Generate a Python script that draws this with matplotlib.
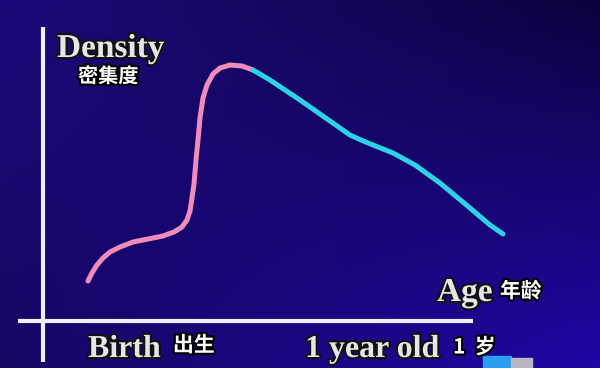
import numpy as np
import matplotlib.pyplot as plt
import matplotlib.patheffects as pe
from matplotlib.patches import Rectangle

# curve (age from birth, density), origin at the axis cross
pink_age = [45, 49, 54, 60, 67, 77, 90, 105, 120, 131, 139, 144, 147, 149, 151,
            153, 155, 157, 160, 164, 170, 177, 187, 199, 210]
pink_density = [40, 48, 56, 63, 69, 74, 79, 82, 85, 89, 94, 101, 110, 123, 137,
                161, 181, 203, 223, 236, 247, 253, 256, 255, 251]
cyan_age = [210, 227, 257, 287, 307, 318, 330, 350, 372, 397, 427, 447, 460]
cyan_density = [251, 241, 221, 200, 186, 181, 176, 168, 156, 138, 113, 96, 87]

x_axis_span = [-25, 430]
y_axis_span = [-41, 294]

fig = plt.figure(figsize=(6, 3.68), dpi=100)
ax = fig.add_axes([0, 0, 1, 1])
ax.set_xlim(-43, 557)
ax.set_ylim(-47, 321)
ax.axis("off")

# slide background gradient
tl = np.array([0x1c, 0x0a, 0x7a]) / 255
tr = np.array([0x0b, 0x03, 0x3e]) / 255
bl = np.array([0x16, 0x06, 0x62]) / 255
br = np.array([0x22, 0x06, 0xa6]) / 255
u = np.linspace(0, 1, 200)[None, :, None]
v = np.linspace(0, 1, 120)[:, None, None]
bg = (1 - v) * ((1 - u) * tl + u * tr) + v * ((1 - u) * bl + u * br)
ax.imshow(bg, extent=[-43, 557, -47, 321], aspect="auto", zorder=0)

# axes lines
ax.plot(x_axis_span, [0, 0], color="#f2eefc", lw=3, solid_capstyle="butt", zorder=2)
ax.plot([0, 0], y_axis_span, color="#f2eefc", lw=3, solid_capstyle="butt", zorder=2)

# density curve
ax.plot(pink_age, pink_density, color="#f08cba", lw=3.6,
        solid_capstyle="round", solid_joinstyle="round", zorder=3)
ax.plot(cyan_age, cyan_density, color="#2ed2e6", lw=3.6,
        solid_capstyle="round", solid_joinstyle="round", zorder=3)

serif = dict(family="Liberation Serif", weight="bold", color="#e6e6e6",
             path_effects=[pe.withStroke(linewidth=3, foreground="#111111")])
cjk = dict(family=["Noto Sans CJK SC", "DejaVu Sans"], weight="bold", color="white",
           path_effects=[pe.withStroke(linewidth=3, foreground="black")])


def label(px, py, s, size, style, va="baseline"):
    ax.annotate(s, (px, 368 - py), xycoords="figure pixels", fontsize=size,
                ha="left", va=va, **style)


label(57, 57, "Density", 24, serif)
label(78, 76, "密集度", 14.5, cjk, va="center")
label(437, 301, "Age", 24, serif)
label(500, 291, "年龄", 15, cjk, va="center")
label(88, 357, "Birth", 23, serif)
label(173, 345, "出生", 15, cjk, va="center")
label(305, 357, "1 year old", 23, serif)
label(453, 347, "1  岁", 15, cjk, va="center")

# little navigation icon at the bottom
fig.add_artist(Rectangle((4.83, 0), 0.28, 0.12, transform=fig.dpi_scale_trans,
                         color="#2a9ff0"))
fig.add_artist(Rectangle((5.11, 0), 0.21, 0.10, transform=fig.dpi_scale_trans,
                         color="#b8b8c0"))

fig.savefig("out.png", dpi=100)
